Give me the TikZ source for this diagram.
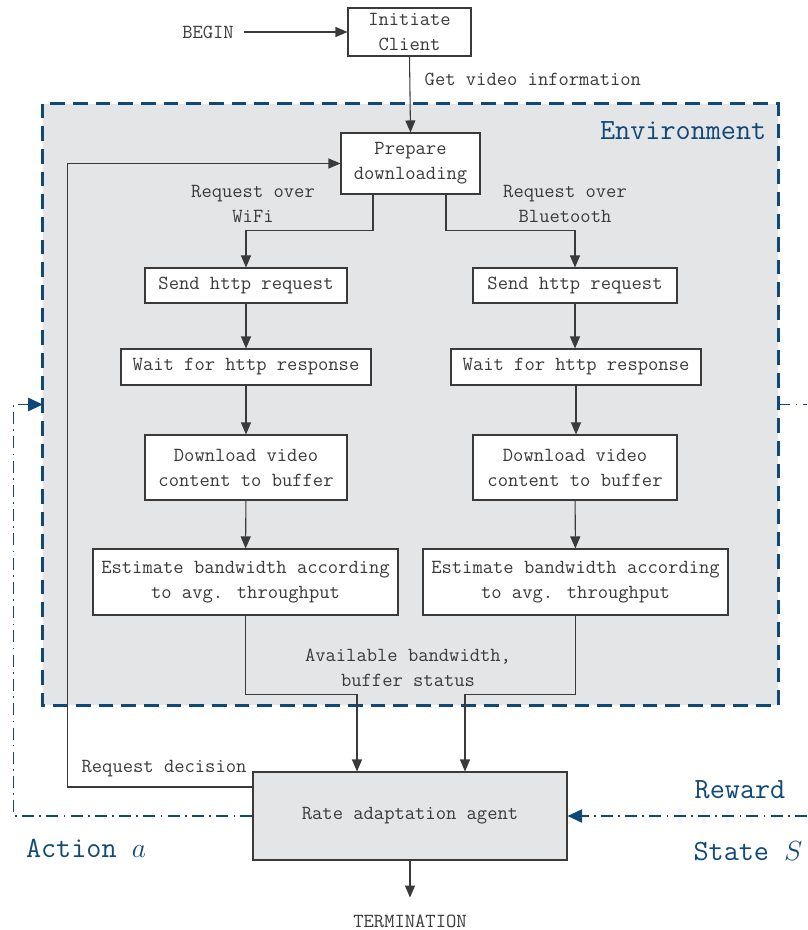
\documentclass[tikz,border=0pt]{standalone}
\usetikzlibrary{arrows.meta,calc,fit}
\definecolor{envblue}{RGB}{16,72,120}
\definecolor{envgray}{RGB}{228,229,231}
\definecolor{txtgray}{RGB}{58,58,58}
\begin{document}
\begin{tikzpicture}[x=0.75pt,y=-0.75pt,
  every node/.style={font=\ttfamily\fontsize{15}{18.75}\selectfont, text=txtgray},
  box/.style={draw=txtgray, line width=0.8pt, fill=white, inner sep=0pt, align=center},
  arr/.style={draw=txtgray, line width=0.8pt, -{Triangle[length=9pt,width=7.5pt]}},
  lin/.style={draw=txtgray, line width=0.8pt},
  envline/.style={draw=envblue, line width=2.2pt, dash pattern=on 11pt off 6pt},
  dd/.style={draw=envblue, line width=1.4pt, dash pattern=on 9pt off 4pt on 1.2pt off 4pt},
  ddarr/.style={dd, -{Triangle[length=11pt,width=10pt]}},
  bluetxt/.style={font=\ttfamily\fontsize{22}{26}\selectfont, text=envblue}]
\useasboundingbox (0,0) rectangle (807,930);
% environment
\coordinate (e1) at (43,104);
\coordinate (e2) at (778,705);
\node[fit=(e1)(e2), inner sep=0pt, fill=envgray] (env) {};
\draw[envline] (env.north west) rectangle (env.south east);
\node[bluetxt, anchor=east] (envlbl) at (771,131) {Environment};
% nodes
\node (begin) at (208,32) {BEGIN};
\node[box, minimum width=92.25pt, minimum height=36pt] (init) at (409.5,32) {Initiate\\Client};
\node[box, minimum width=104.25pt, minimum height=45.75pt] (prep) at (410.5,163.5) {Prepare\\downloading};
\node[box, minimum width=151.5pt, minimum height=26.25pt] (sendL) at (246,285.5) {Send http request};
\node[box, minimum width=153pt, minimum height=26.25pt] (sendR) at (575,285.5) {Send http request};
\node[box, minimum width=187.5pt, minimum height=27pt] (waitL) at (246,367) {Wait for http response};
\node[box, minimum width=187.5pt, minimum height=27pt] (waitR) at (576,367) {Wait for http response};
\node[box, minimum width=151.5pt, minimum height=48.75pt] (dlL) at (246,467.5) {Download video\\content to buffer};
\node[box, minimum width=153pt, minimum height=48.75pt] (dlR) at (575,467.5) {Download video\\content to buffer};
\node[box, minimum width=228.75pt, minimum height=49.5pt] (estL) at (245.5,582) {Estimate bandwidth according\\to avg. throughput};
\node[box, minimum width=228.75pt, minimum height=49.5pt] (estR) at (575.5,582) {Estimate bandwidth according\\to avg. throughput};
\node[box, fill=envgray, minimum width=235.5pt, minimum height=66pt] (agent) at (410,816) {Rate adaptation agent};
\node (term) at (410,921) {TERMINATION};
% labels
\node[anchor=west] (getinfo) at (420,79) {Get video information};
\node[align=center] (wifi) at (253,204) {Request over\\WiFi};
\node[align=center] (bt) at (565,204) {Request over\\Bluetooth};
\node[align=center] (avail) at (408,668) {Available bandwidth,\\buffer status};
\node (reqdec) at (164,769) {Request decision};
\node[bluetxt] (reward) at (740,790) {Reward};
\node[bluetxt] (state) at (748,851) {State $S$};
\node[bluetxt] (action) at (86,848) {Action $a$};
% connectors
\draw[arr] (begin.east) ++(6,0) -- (init.west);
\draw[arr] (init.south) -- (prep.north);
\draw[arr] ($(prep.south)+(-37.5,0)$) -- ++(0,36) -| (sendL.north);
\draw[arr] ($(prep.south)+(35.5,0)$) -- ++(0,36) -| (sendR.north);
\draw[arr] (sendL) -- (waitL);
\draw[arr] (sendR) -- (sendR |- waitR.north);
\draw[arr] (waitL) -- (dlL);
\draw[arr] (waitR.south) -- (waitR.south |- dlR.north);
\draw[arr] (dlL) -- (estL);
\draw[arr] (dlR) -- (estR);
\draw[arr] (estL.south) -- ++(0,79) -| ($(agent.north)+(-53,0)$);
\draw[arr] (estR.south) -- ++(0,79) -| ($(agent.north)+(55,0)$);
\draw[arr] ($(agent.west)+(0,-29)$) -- ++(-185,0) |- (prep.west);
\draw[arr] (agent.south) -- ++(0,37) coordinate (termtip);
% action / state loop
\coordinate (rOut) at (807,404.5);
\coordinate (rIn) at (807,816);
\draw[ddarr] (agent.west) -- ++(-239,0) |- (env.west);
\draw[dd] (env.east) -- (rOut);
\draw[ddarr] (rIn) -- (agent.east);
\end{tikzpicture}
\end{document}
